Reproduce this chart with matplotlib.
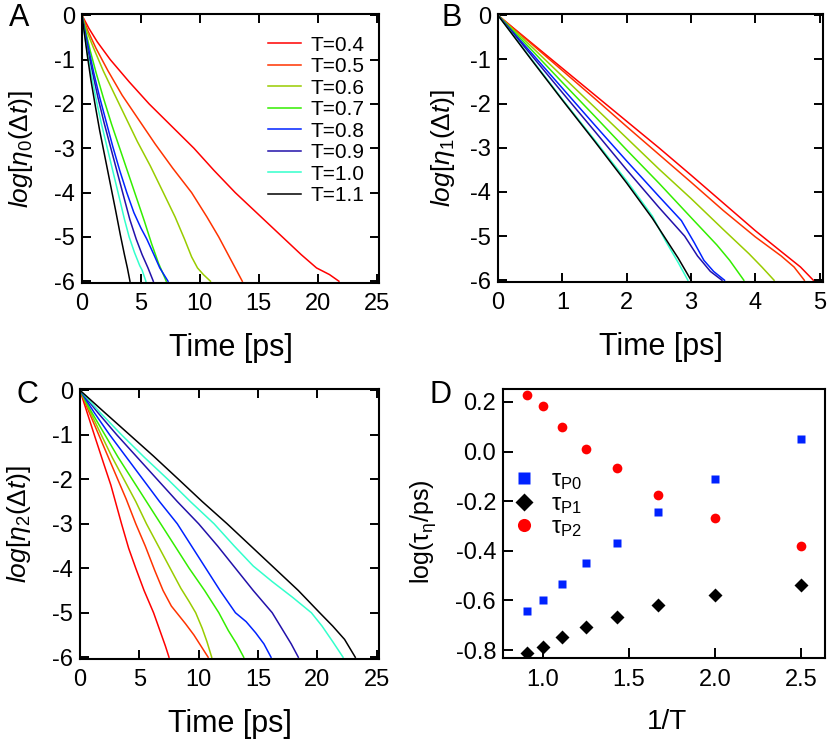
import numpy as np
import matplotlib
matplotlib.use("Agg")
import matplotlib.pyplot as plt

plt.rcParams['font.family'] = ['Liberation Sans', 'DejaVu Sans']
plt.rcParams['mathtext.fontset'] = 'custom'
plt.rcParams['mathtext.rm'] = 'Liberation Sans'
plt.rcParams['mathtext.it'] = 'Liberation Sans:italic'

#Temperaturas y colores
temps = ["T=0.4", "T=0.5", "T=0.6", "T=0.7", "T=0.8", "T=0.9", "T=1.0", "T=1.1"]
colores = ['#ff0000', '#ff3300', '#99cc00', '#33ee00', '#0022ff', '#2211aa', '#33ffcc', '#000000']

#Panel A - eta0
a_x = [
    [0, 0.6, 1.3, 2.4, 4.0, 5.7, 7.6, 9.5, 11.2, 13.0, 15.0, 17.0, 18.6, 19.9, 21.0, 21.8],
    [0, 0.5, 1.2, 2.2, 3.4, 4.8, 6.2, 7.7, 9.3, 10.6, 11.6, 12.3, 12.9, 13.6],
    [0, 0.4, 1.0, 1.8, 2.7, 3.7, 4.7, 5.8, 6.9, 7.9, 8.7, 9.3, 9.8, 10.3, 10.9],
    [0, 0.3, 0.7, 1.2, 1.8, 2.5, 3.2, 3.9, 4.6, 5.3, 5.9, 6.5, 7.15],
    [0, 0.25, 0.6, 1.0, 1.5, 2.05, 2.6, 3.2, 3.8, 4.4, 5.0, 5.5, 6.1, 6.6, 7.3],
    [0, 0.2, 0.5, 0.9, 1.35, 1.85, 2.4, 2.95, 3.5, 4.05, 4.6, 5.1, 5.6, 6.05],
    [0, 0.2, 0.45, 0.8, 1.2, 1.65, 2.15, 2.65, 3.15, 3.6, 4.0, 4.45, 4.9, 5.1, 5.42],
    [0, 0.2, 0.45, 0.75, 1.1, 1.5, 1.95, 2.4, 2.85, 3.25, 3.6, 3.85, 4.07],
]
a_y = [
    [0, -0.3, -0.6, -1.0, -1.5, -2.0, -2.5, -3.0, -3.5, -4.0, -4.5, -5.0, -5.4, -5.7, -5.85, -6.0],
    [0, -0.35, -0.75, -1.25, -1.8, -2.35, -2.9, -3.45, -4.0, -4.55, -5.0, -5.35, -5.65, -6.0],
    [0, -0.35, -0.75, -1.25, -1.75, -2.3, -2.85, -3.4, -4.0, -4.55, -5.05, -5.45, -5.7, -5.85, -6.0],
    [0, -0.35, -0.8, -1.3, -1.85, -2.45, -3.0, -3.55, -4.1, -4.65, -5.15, -5.6, -6.0],
    [0, -0.35, -0.8, -1.3, -1.85, -2.4, -2.95, -3.5, -4.0, -4.45, -4.8, -5.05, -5.4, -5.7, -6.0],
    [0, -0.35, -0.8, -1.3, -1.85, -2.4, -2.95, -3.5, -4.05, -4.6, -5.05, -5.4, -5.7, -6.0],
    [0, -0.4, -0.85, -1.35, -1.9, -2.45, -3.0, -3.55, -4.1, -4.6, -5.0, -5.35, -5.65, -5.75, -6.0],
    [0, -0.4, -0.9, -1.45, -2.0, -2.6, -3.2, -3.8, -4.4, -4.95, -5.4, -5.7, -6.0],
]

#Panel B - eta1
b_x = [
    [0, 0.5, 1.0, 1.5, 2.0, 2.5, 3.0, 3.5, 4.0, 4.4, 4.7, 4.9],
    [0, 0.5, 1.0, 1.5, 2.0, 2.5, 3.0, 3.5, 4.0, 4.4, 4.6, 4.76],
    [0, 0.5, 1.0, 1.5, 2.0, 2.5, 3.0, 3.5, 3.9, 4.1, 4.29],
    [0, 0.5, 1.0, 1.5, 2.0, 2.5, 3.0, 3.4, 3.6, 3.82],
    [0, 0.5, 1.0, 1.5, 2.0, 2.5, 2.85, 3.05, 3.2, 3.35, 3.52],
    [0, 0.5, 1.0, 1.5, 2.0, 2.5, 2.9, 3.1, 3.3, 3.48],
    [0, 0.5, 1.0, 1.5, 2.0, 2.4, 2.6, 2.8, 2.95],
    [0, 0.5, 1.0, 1.5, 2.0, 2.4, 2.6, 2.8, 3.0],
]
b_y = [
    [0, -0.6, -1.2, -1.8, -2.4, -3.0, -3.62, -4.25, -4.88, -5.35, -5.7, -6.0],
    [0, -0.62, -1.25, -1.88, -2.52, -3.15, -3.78, -4.42, -5.02, -5.45, -5.7, -6.0],
    [0, -0.68, -1.38, -2.08, -2.78, -3.48, -4.15, -4.85, -5.4, -5.7, -6.0],
    [0, -0.75, -1.52, -2.28, -3.05, -3.8, -4.58, -5.2, -5.55, -6.0],
    [0, -0.82, -1.65, -2.48, -3.3, -4.1, -4.65, -5.15, -5.55, -5.8, -6.0],
    [0, -0.87, -1.75, -2.62, -3.5, -4.35, -5.0, -5.45, -5.8, -6.0],
    [0, -0.95, -1.9, -2.82, -3.75, -4.55, -5.1, -5.6, -6.0],
    [0, -0.97, -1.92, -2.85, -3.8, -4.6, -5.05, -5.5, -6.0],
]

#Panel C - eta2
c_x = [
    [0, 0.6, 1.3, 2.0, 2.6, 3.5, 4.1, 4.7, 5.4, 6.2, 6.8, 7.2, 7.5],
    [0, 0.7, 1.5, 2.3, 3.1, 3.9, 4.7, 5.5, 6.3, 7.0, 7.7, 8.3, 8.9, 9.6, 10.2, 10.8],
    [0, 0.8, 1.7, 2.7, 3.7, 4.7, 5.6, 6.6, 7.6, 8.5, 9.2, 9.75, 10.3, 10.7, 11.1],
    [0, 1.0, 2.1, 3.2, 4.4, 5.6, 6.8, 8.0, 9.2, 10.5, 11.7, 12.5, 13.2, 13.8],
    [0, 1.2, 2.5, 3.9, 5.3, 6.7, 8.2, 9.4, 10.6, 11.8, 13.1, 14.0, 14.8, 15.5, 16.1],
    [0, 1.5, 3.1, 4.8, 6.5, 8.2, 10.0, 11.6, 13.1, 14.6, 16.2, 17.0, 17.8, 18.4],
    [0, 1.7, 3.5, 5.4, 7.4, 9.3, 11.3, 13.0, 14.6, 16.2, 17.9, 19.5, 20.4, 21.3, 22.17],
    [0, 2.0, 4.1, 6.2, 8.3, 10.3, 12.4, 14.4, 16.4, 18.4, 20.2, 21.3, 22.3, 23.2],
]
c_y = [
    [0, -0.5, -1.08, -1.65, -2.13, -3.0, -3.55, -4.0, -4.5, -5.0, -5.45, -5.75, -6.0],
    [0, -0.45, -0.95, -1.45, -1.95, -2.45, -3.0, -3.5, -4.05, -4.5, -4.85, -5.05, -5.25, -5.5, -5.75, -6.0],
    [0, -0.45, -0.95, -1.5, -2.0, -2.5, -3.0, -3.5, -4.0, -4.45, -4.75, -5.0, -5.35, -5.65, -6.0],
    [0, -0.5, -1.0, -1.5, -2.0, -2.5, -3.0, -3.5, -4.0, -4.5, -5.0, -5.4, -5.7, -6.0],
    [0, -0.5, -1.0, -1.5, -2.0, -2.5, -3.0, -3.5, -4.0, -4.5, -5.0, -5.2, -5.45, -5.7, -6.0],
    [0, -0.5, -1.0, -1.5, -2.0, -2.5, -3.0, -3.5, -4.0, -4.5, -5.0, -5.35, -5.7, -6.0],
    [0, -0.5, -1.0, -1.5, -2.0, -2.5, -3.0, -3.5, -3.95, -4.3, -4.65, -5.0, -5.3, -5.65, -6.0],
    [0, -0.48, -0.98, -1.48, -2.0, -2.5, -3.0, -3.5, -4.0, -4.5, -5.0, -5.3, -5.6, -6.0],
]

#Panel D - tiempos de relajacion
invT = [1/1.1, 1.0, 1/0.9, 1/0.8, 1/0.7, 1/0.6, 1/0.5, 1/0.4]
tauP0 = [-0.643, -0.600, -0.532, -0.451, -0.369, -0.243, -0.112, 0.050]
tauP1 = [-0.810, -0.786, -0.749, -0.708, -0.668, -0.619, -0.577, -0.538]
tauP2 = [0.226, 0.182, 0.100, 0.011, -0.068, -0.177, -0.268, -0.380]

W, H = 827, 739
fig = plt.figure(figsize=(W/100, H/100), dpi=100)

def caja(l, t, r, b):
    return fig.add_axes([l/W, 1 - b/H, (r-l)/W, (b-t)/H])

def estiloPanel(ax, xmax, xticks, ylabel, ylx):
    ax.set_xlim(0, xmax)
    ax.set_ylim(-6.04, 0.03)
    ax.set_xticks(xticks)
    ax.set_yticks([0, -1, -2, -3, -4, -5, -6])
    ax.set_yticklabels(['0', '-1', '-2', '-3', '-4', '-5', '-6'])
    ax.tick_params(direction='in', top=True, right=True, length=6.5, width=1.4, labelsize=17, pad=5)
    ax.tick_params(axis='x', pad=7)
    for s in ax.spines.values():
        s.set_linewidth(1.5)
    ax.set_xlabel("Time [ps]", fontsize=22)
    ax.xaxis.set_label_coords(0.5, -0.185)
    ax.set_ylabel(ylabel, fontsize=19)
    ax.yaxis.set_label_coords(ylx, 0.5)

axA = caja(82, 14, 379, 283)
for i in range(len(temps)):
    axA.plot(a_x[i], a_y[i], color=colores[i], lw=1.1, label=temps[i])
estiloPanel(axA, 25.2, [0, 5, 10, 15, 20, 25], r"$log[\eta_{\mathrm{0}}(\Delta t)]$", -0.158)
axA.legend(loc='upper right', bbox_to_anchor=(0.98, 0.95), frameon=False, fontsize=15,
           handlelength=1.6, handletextpad=0.45, labelspacing=0.12, borderaxespad=0)

axB = caja(498, 14, 823, 282)
for i in range(len(temps)):
    axB.plot(b_x[i], b_y[i], color=colores[i], lw=1.1)
estiloPanel(axB, 5.05, [0, 1, 2, 3, 4, 5], r"$log[\eta_{\mathrm{1}}(\Delta t)]$", -0.126)

axC = caja(80, 389, 379, 659)
for i in range(len(temps)):
    axC.plot(c_x[i], c_y[i], color=colores[i], lw=1.1)
estiloPanel(axC, 25.2, [0, 5, 10, 15, 20, 25], r"$log[\eta_{\mathrm{2}}(\Delta t)]$", -0.157)

axD = caja(503, 389, 825, 658)
axD.plot(invT, tauP0, 's', color='#0022ff', ms=6.3, mec='none', label=r"τ$_{\mathrm{P0}}$")
axD.plot(invT, tauP1, 'D', color='black', ms=7, mec='none', label=r"τ$_{\mathrm{P1}}$")
axD.plot(invT, tauP2, 'o', color='#ff0000', ms=7, mec='none', label=r"τ$_{\mathrm{P2}}$")
axD.set_xlim(0.767, 2.64)
axD.set_ylim(-0.832, 0.252)
axD.set_xticks([1.0, 1.5, 2.0, 2.5])
axD.set_yticks([0.2, 0.0, -0.2, -0.4, -0.6, -0.8])
axD.set_xticklabels(['1.0', '1.5', '2.0', '2.5'])
axD.set_yticklabels(['0.2', '0.0', '-0.2', '-0.4', '-0.6', '-0.8'])
axD.tick_params(direction='in', length=7, width=1.4, labelsize=17)
axD.tick_params(axis='x', pad=8)
axD.tick_params(axis='y', pad=5)
for s in axD.spines.values():
    s.set_linewidth(1.5)
axD.set_xlabel("1/T", fontsize=20)
axD.xaxis.set_label_coords(0.51, -0.19)
axD.set_ylabel(r"log(τ$_{\mathrm{η}}$/ps)", fontsize=18)
axD.yaxis.set_label_coords(-0.202, 0.47)
axD.legend(loc='upper left', bbox_to_anchor=(0.0, 0.737), frameon=False, fontsize=17,
           handlelength=1.0, handletextpad=0.64, labelspacing=0.03, borderaxespad=0,
           markerscale=1.35)

#Letras de los paneles
fig.text(9/W, 1 - 3/H, "A", fontsize=22, va='top')
fig.text(441/W, 1 - 3/H, "B", fontsize=22, va='top')
fig.text(17/W, 1 - 380/H, "C", fontsize=22, va='top')
fig.text(429/W, 1 - 380/H, "D", fontsize=22, va='top')

plt.savefig("out.png", dpi=100)
